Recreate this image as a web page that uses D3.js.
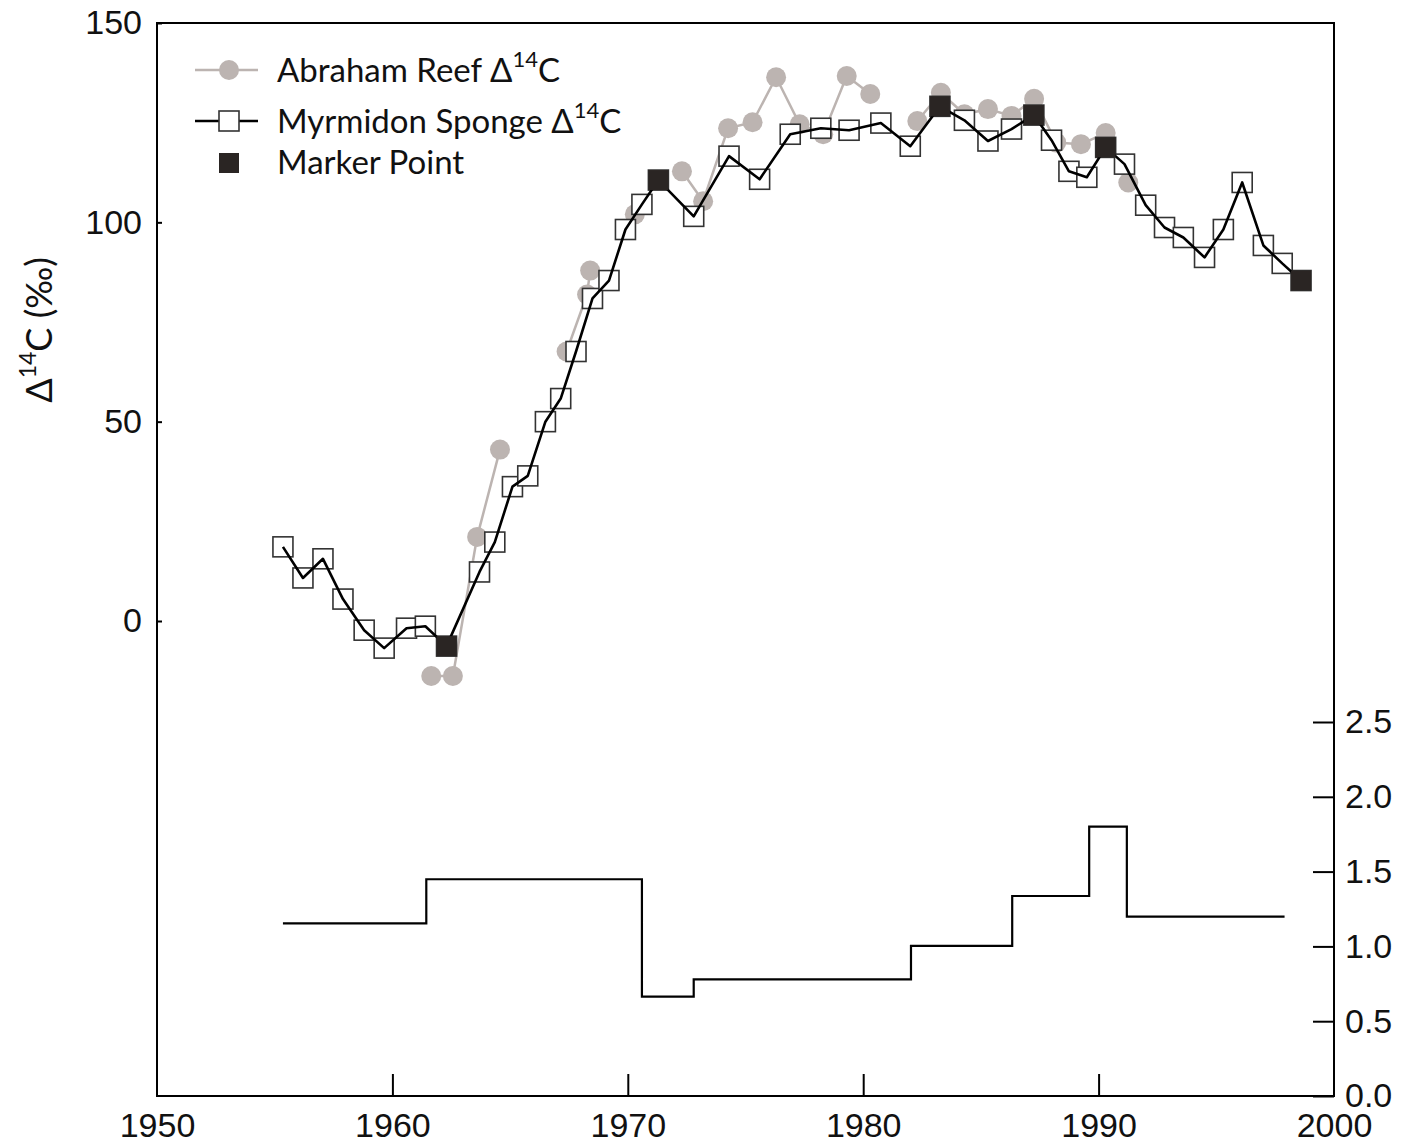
<!DOCTYPE html>
<html>
  <head>
    <meta charset="utf-8">
    <title>Abraham Reef and Myrmidon sponge radiocarbon</title>
    <script src="https://cdn.jsdelivr.net/npm/d3@7"></script>
    <style>
      body { margin: 0; background: #fff; }
      svg { display: block; font-family: Lato, "Open Sans", sans-serif; }
      .tick text { font-size: 34px; fill: #111; }
      .legendText { font-size: 33px; fill: #111; }
    </style>
  </head>

  <body>
    <svg id="chart" width="1413" height="1145"></svg>

    <script>
      // myrmidon sponge (open squares + black line)
      spongeYear = [1955.35, 1956.2, 1957.05, 1957.9, 1958.8, 1959.65, 1960.6, 1961.4, 1962.3, 1963.7,
        1964.35, 1965.1, 1965.75, 1966.5, 1967.15, 1967.8, 1968.5, 1969.2, 1969.9, 1970.6,
        1971.3, 1972.8, 1974.3, 1975.6, 1976.9, 1978.2, 1979.4, 1980.75, 1982.0, 1983.26,
        1984.3, 1985.3, 1986.3, 1987.25, 1988.0, 1988.74, 1989.5, 1990.3, 1991.1, 1992.0,
        1992.8, 1993.6, 1994.5, 1995.3, 1996.1, 1997.0, 1997.8, 1998.6];
      spongeD14C = [18.6, 10.8, 15.6, 5.5, -2.3, -6.8, -1.8, -1.3, -6.3, 12.3,
        19.8, 33.7, 36.4, 50, 55.8, 67.6, 80.9, 85.4, 98.2, 104.5,
        110.6, 101.5, 116.6, 110.8, 122.1, 123.6, 123.1, 124.9, 119.1, 129.1,
        125.6, 120.4, 123.4, 126.9, 120.6, 112.8, 111.3, 118.8, 114.6, 104.3,
        98.7, 96.2, 91.2, 98.2, 110, 94.2, 89.7, 85.4];

      // marker points (filled squares)
      markerYear = [1962.3, 1971.3, 1983.26, 1987.25, 1990.3, 1998.6];
      markerD14C = [-6.3, 110.6, 129.1, 126.9, 118.8, 85.4];

      // abraham reef coral (grey circles); reefSeg groups the joined runs
      reefYear = [1961.65, 1962.57, 1963.6, 1964.57, 1967.4, 1968.27, 1968.4, 1970.3,
        1972.3, 1973.2, 1974.26, 1975.3, 1976.3, 1977.3, 1978.3, 1979.3, 1980.3,
        1982.3, 1983.3, 1984.3, 1985.3, 1986.3, 1987.26, 1988.2, 1989.25, 1990.3, 1991.26];
      reefD14C = [-13.8, -13.8, 21.1, 43, 67.6, 81.9, 87.9, 102,
        112.8, 105.3, 123.6, 125.1, 136.4, 124.6, 122.1, 136.7, 132.2,
        125.4, 132.5, 127.1, 128.4, 126.7, 131, 120, 119.6, 122.4, 110];
      reefSeg = [0, 0, 0, 0, 1, 1, 1, 2,
        3, 3, 3, 3, 3, 3, 3, 3, 3,
        4, 4, 4, 4, 4, 4, 4, 4, 4, 4];

      // step series on the right axis
      stepStart = [1955.35, 1961.44, 1970.6, 1972.8, 1982.03, 1986.33, 1989.6, 1991.2];
      stepEnd = 1997.9;
      stepValue = [1.154, 1.449, 0.664, 0.78, 1.003, 1.337, 1.8, 1.199];

      xTicks = [1950, 1960, 1970, 1980, 1990, 2000];
      yTicks = [0, 50, 100, 150];
      rTicks = [0, 0.5, 1, 1.5, 2, 2.5];

      // layout (plot frame)
      frameL = 157; frameR = 1334; frameT = 23; frameB = 1096;
      svg = d3.select("#chart");

      x = d3.scaleLinear().domain([1950, 2000]).range([frameL, frameR]);
      y = d3.scaleLinear().domain([0, 150]).range([621, frameT]);
      yR = d3.scaleLinear().domain([0, 2.5]).range([frameB, 722]);

      grey = "#bcb4b1";
      dark = "#2a2523";

      // frame
      svg.append("rect")
        .attr("x", frameL).attr("y", frameT)
        .attr("width", frameR - frameL).attr("height", frameB - frameT)
        .attr("fill", "none").attr("stroke", "#000").attr("stroke-width", 2);

      // axes
      xAxis = svg.append("g")
        .attr("transform", "translate(0," + frameB + ")")
        .call(d3.axisBottom(x).tickValues(xTicks).tickFormat(d3.format("d")).tickSize(0).tickPadding(17));
      xAxis.select(".domain").remove();
      xAxis.selectAll(".tick")
        .filter(function(d) { return d > 1950 && d < 2000; })
        .append("line").attr("y1", 0).attr("y2", -22).attr("stroke", "#000").attr("stroke-width", 2);

      yAxis = svg.append("g")
        .attr("transform", "translate(" + frameL + ",0)")
        .call(d3.axisLeft(y).tickValues(yTicks).tickSize(-5).tickPadding(15));
      yAxis.select(".domain").remove();
      yAxis.selectAll("line").attr("stroke-width", 2);

      rAxis = svg.append("g")
        .attr("transform", "translate(" + frameR + ",0)")
        .call(d3.axisRight(yR).tickValues(rTicks).tickFormat(d3.format(".1f")).tickSize(-21).tickPadding(11));
      rAxis.select(".domain").remove();
      rAxis.selectAll("line").attr("stroke-width", 2);

      svg.selectAll(".tick text").attr("fill", "#111");

      // y axis title
      yTitle = svg.append("text")
        .attr("transform", "translate(52,330) rotate(-90)")
        .attr("text-anchor", "middle")
        .style("font-size", "36px").attr("fill", "#111");
      yTitle.append("tspan").text("\u0394");
      yTitle.append("tspan").attr("dy", -16).style("font-size", "23px").text("14");
      yTitle.append("tspan").attr("dy", 16).text("C (\u2030)");

      // step series
      stepData = stepStart.map(function(d, i) { return [d, stepValue[i]]; });
      stepData.push([stepEnd, stepValue[stepValue.length - 1]]);
      svg.append("path")
        .datum(stepData)
        .attr("fill", "none").attr("stroke", "#000").attr("stroke-width", 2.2)
        .attr("d", d3.line()
          .x(function(d) { return x(d[0]); })
          .y(function(d) { return yR(d[1]); })
          .curve(d3.curveStepAfter));

      // reef
      reef = reefYear.map(function(d, i) { return { year: d, value: reefD14C[i], seg: reefSeg[i] }; });
      reefLine = d3.line()
        .x(function(d) { return x(d.year); })
        .y(function(d) { return y(d.value); });
      svg.append("g").selectAll("path")
        .data(d3.groups(reef, function(d) { return d.seg; }))
        .enter().append("path")
          .attr("fill", "none").attr("stroke", grey).attr("stroke-width", 2.5)
          .attr("d", function(d) { return reefLine(d[1]); });
      svg.append("g").selectAll("circle")
        .data(reef)
        .enter().append("circle")
          .attr("cx", function(d) { return x(d.year); })
          .attr("cy", function(d) { return y(d.value); })
          .attr("r", 10)
          .attr("fill", grey);

      // sponge
      sponge = spongeYear.map(function(d, i) { return { year: d, value: spongeD14C[i] }; });
      sq = 20;
      svg.append("g").selectAll("rect")
        .data(sponge)
        .enter().append("rect")
          .attr("x", function(d) { return x(d.year) - sq / 2; })
          .attr("y", function(d) { return y(d.value) - sq / 2; })
          .attr("width", sq).attr("height", sq)
          .attr("fill", "#fff").attr("stroke", "#333").attr("stroke-width", 1.6);
      svg.append("path")
        .datum(sponge)
        .attr("fill", "none").attr("stroke", "#000").attr("stroke-width", 2.6)
        .attr("stroke-linejoin", "round")
        .attr("d", d3.line()
          .x(function(d) { return x(d.year); })
          .y(function(d) { return y(d.value); }));

      // marker points
      svg.append("g").selectAll("rect")
        .data(markerYear)
        .enter().append("rect")
          .attr("x", function(d) { return x(d) - sq / 2; })
          .attr("y", function(d, i) { return y(markerD14C[i]) - sq / 2; })
          .attr("width", sq).attr("height", sq)
          .attr("fill", dark);

      // legend
      legend = svg.append("g");
      legend.append("line").attr("x1", 195).attr("x2", 258).attr("y1", 70).attr("y2", 70)
        .attr("stroke", grey).attr("stroke-width", 2.5);
      legend.append("circle").attr("cx", 229).attr("cy", 70).attr("r", 10).attr("fill", grey);
      legend.append("line").attr("x1", 195).attr("x2", 258).attr("y1", 121).attr("y2", 121)
        .attr("stroke", "#000").attr("stroke-width", 2.6);
      legend.append("rect").attr("x", 219).attr("y", 111).attr("width", sq).attr("height", sq)
        .attr("fill", "#fff").attr("stroke", "#333").attr("stroke-width", 1.6);
      legend.append("rect").attr("x", 219).attr("y", 153).attr("width", sq).attr("height", sq)
        .attr("fill", dark);

      function legendLabel(name, yPos, sup) {
        var t = legend.append("text").attr("class", "legendText").attr("x", 277).attr("y", yPos);
        t.append("tspan").text(name);
        if (sup) {
          t.append("tspan").attr("dy", -15).style("font-size", "22px").text("14");
          t.append("tspan").attr("dy", 15).text("C");
        }
      }
      legendLabel("Abraham Reef \u0394", 82, true);
      legendLabel("Myrmidon Sponge \u0394", 133, true);
      legendLabel("Marker Point", 174, false);
    </script>
  </body>
</html>
